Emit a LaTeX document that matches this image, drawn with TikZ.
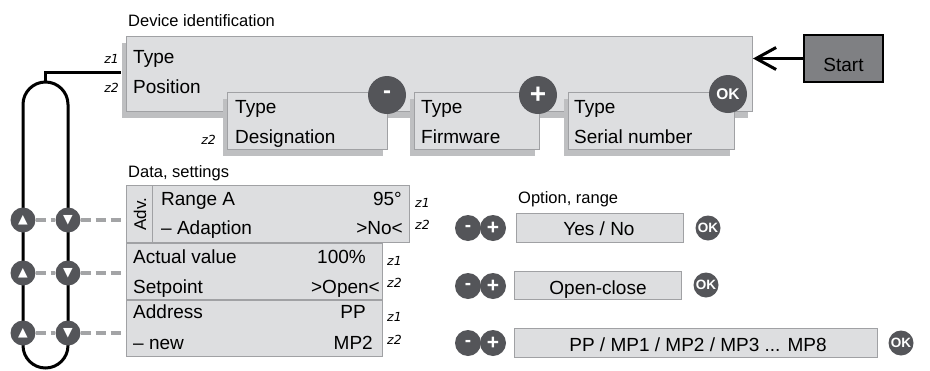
\documentclass[tikz,border=0pt]{standalone}
\usepackage{fontspec}
\setmainfont{Liberation Sans}
\newfontfamily\zfont{DejaVu Sans}
\newfontfamily\symfont{DejaVu Sans}
\usetikzlibrary{shadows,arrows.meta}
\definecolor{Panel}{RGB}{221,222,224}
\definecolor{Rim}{RGB}{160,161,164}
\definecolor{Shade}{RGB}{190,191,193}
\definecolor{Knob}{RGB}{84,85,89}
\definecolor{Startfill}{RGB}{127,128,131}
\definecolor{Dashgrey}{RGB}{163,164,166}

\begin{document}
\begin{tikzpicture}[x=1pt,y=-1pt,
   box/.style={draw=Rim,fill=Panel,line width=1pt,inner sep=0pt,anchor=north west},
   shbox/.style={box,drop shadow={shadow xshift=-5pt,shadow yshift=-6pt,fill=Shade,opacity=1}},
   knob/.style={circle,fill=Knob,inner sep=0pt,minimum size=#1,text=white,font=\bfseries},
   tri/.style={knob=25pt,font=\symfont\fontsize{12.5}{12.5}\selectfont},
   txt/.style={inner sep=0pt,anchor=base west,font=\fontsize{19}{22}\selectfont},
   val/.style={txt,anchor=base east},
   lbl/.style={inner sep=0pt,anchor=base west,font=\fontsize{16.5}{19}\selectfont},
   zw/.style={inner sep=0pt,anchor=base west,font=\zfont\itshape\fontsize{12.5}{14}\selectfont},
   ze/.style={zw,anchor=base east},
   wire/.style={line width=3pt,black},
   dashln/.style={line width=4pt,Dashgrey,dash pattern=on 10pt off 5pt},
   arr/.style={line width=3pt,-{Straight Barb[length=20pt,width=22pt]}}]
  \useasboundingbox (0,0) rectangle (930,370);
  \node[lbl] (devlbl) at (128,26) {Device identification};
  \node[shbox,minimum width=626pt,minimum height=75pt] (dev) at (126,36) {};
  \node[txt] (devtype) at (133,63) {Type};\node[txt] (devpos) at (133,93) {Position};
  \node[ze] (z1a) at (119,63) {z1};\node[ze] (z2a) at (119,92) {z2};
  \node[shbox,minimum width=160pt,minimum height=57pt] (des) at (227,92) {};
  \node[shbox,minimum width=125pt,minimum height=57pt] (fw) at (414,92) {};
  \node[shbox,minimum width=166pt,minimum height=57pt] (ser) at (568,92) {};
  \node[txt] (destype) at (235,113) {Type};\node[txt] (desname) at (235,143) {Designation};
  \node[txt] (fwtype) at (421,113) {Type};\node[txt] (fwname) at (421,143) {Firmware};
  \node[txt] (sertype) at (574,113) {Type};\node[txt] (sername) at (574,143) {Serial number};
  \node[ze] (z2b) at (216,144) {z2};
  \node[knob=38pt,font=\bfseries\fontsize{24}{24}\selectfont] (kminus) at (387,95) {-};
  \node[knob=38pt,font=\bfseries\fontsize{28}{28}\selectfont] (kplus) at (538,95) {+};
  \node[knob=38pt,font=\bfseries\fontsize{15.5}{15.5}\selectfont] (kok) at (728,94) {OK};
  \node[draw=black,line width=2pt,fill=Startfill,minimum width=79pt,minimum height=47pt,inner sep=0pt] (start) at (843.5,58.5) {};
  \node[txt,anchor=base] (startlbl) at (843.5,71) {Start};
  \draw[arr] (start.west) -- (dev.east |- start.west);
  \coordinate (looptop) at (45.5,82);\coordinate (hook) at (121,72);
  \draw[wire,rounded corners=22.5pt] (23,82) rectangle (68,368);
  \draw[wire] (looptop) |- (hook);
  \node[lbl] (datalbl) at (128,177) {Data, settings};
  \node[box,minimum width=283pt,minimum height=57pt] (r1) at (126,185) {};
  \node[box,minimum width=256pt,minimum height=56pt] (r2) at (126,243) {};
  \node[box,minimum width=256pt,minimum height=56pt] (r3) at (126,300) {};
  \draw[Rim,line width=1pt] (152,185) -- (152,242);
  \node[inner sep=0pt,rotate=90,font=\fontsize{17}{17}\selectfont] (adv) at (140,214) {Adv.};
  \node[txt] (rng) at (161,205) {Range A};\node[val] (rngv) at (402,205) {95°};
  \node[txt] (adp) at (161,234) {– Adaption};\node[val] (adpv) at (403,234) {>No<};
  \node[txt] (act) at (133,263) {Actual value};\node[val] (actv) at (366,263) {100\%};
  \node[txt] (setp) at (133,293) {Setpoint};\node[val] (setpv) at (380,293) {>Open<};
  \node[txt] (addr) at (133,318) {Address};\node[val] (addrv) at (366,318) {PP};
  \node[txt] (anew) at (133,349) {– new};\node[val] (anewv) at (373,349) {MP2};
  \node[zw] (z1c) at (415,207) {z1};\node[zw] (z2c) at (415,229) {z2};
  \node[zw] (z1d) at (387,265) {z1};\node[zw] (z2d) at (387,287) {z2};
  \node[zw] (z1e) at (387,321) {z1};\node[zw] (z2e) at (387,344) {z2};
  \node[tri] (up1) at (23,220) {▲};\node[tri] (dn1) at (68,220) {▼};
  \node[tri] (up2) at (23,273) {▲};\node[tri] (dn2) at (68,273) {▼};
  \node[tri] (up3) at (23,333) {▲};\node[tri] (dn3) at (68,333) {▼};
  \draw[dashln] (up1) -- (dn1);\draw[dashln] (dn1) -- (dn1 -| r1.west);
  \draw[dashln] (up2) -- (dn2);\draw[dashln] (dn2) -- (dn2 -| r2.west);
  \draw[dashln] (up3) -- (dn3);\draw[dashln] (dn3) -- (dn3 -| r3.west);
  \node[lbl] (optlbl) at (518,203) {Option, range};
  \node[box,minimum width=167pt,minimum height=29pt] (o1) at (516,213) {};
  \node[box,minimum width=167pt,minimum height=28pt] (o2) at (514,271) {};
  \node[box,minimum width=363pt,minimum height=29pt] (o3) at (514,328) {};
  \node[txt,anchor=base] (o1t) at (599,235) {Yes / No};
  \node[txt,anchor=base] (o2t) at (598,294) {Open-close};
  \node[txt,anchor=base] (o3t) at (698,351) {PP / MP1 / MP2 / MP3 ... MP8};
  \node[knob=26pt,font=\bfseries\fontsize{19}{19}\selectfont] (m1) at (468,228) {-};\node[knob=26pt,font=\bfseries\fontsize{21}{21}\selectfont] (p1) at (493,228) {+};
  \node[knob=26pt,font=\bfseries\fontsize{19}{19}\selectfont] (m2) at (468,286) {-};\node[knob=26pt,font=\bfseries\fontsize{21}{21}\selectfont] (p2) at (493,286) {+};
  \node[knob=26pt,font=\bfseries\fontsize{19}{19}\selectfont] (m3) at (468,343) {-};\node[knob=26pt,font=\bfseries\fontsize{21}{21}\selectfont] (p3) at (493,343) {+};
  \node[knob=25pt,font=\bfseries\fontsize{13.5}{14}\selectfont] (ok1) at (708,228) {OK};
  \node[knob=25pt,font=\bfseries\fontsize{13.5}{14}\selectfont] (ok2) at (706,285) {OK};
  \node[knob=25pt,font=\bfseries\fontsize{13.5}{14}\selectfont] (ok3) at (901,343) {OK};
\end{tikzpicture}
\end{document}
